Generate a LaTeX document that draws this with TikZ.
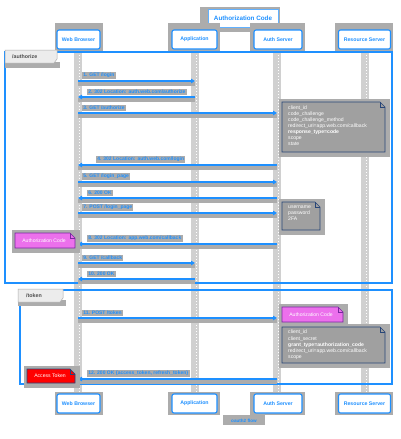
\documentclass[tikz,border=0pt]{standalone}
\usepackage{fontspec}
\setmainfont{Liberation Sans}
\usetikzlibrary{arrows.meta,calc}
\definecolor{pblue}{RGB}{30,144,255}
\definecolor{shad}{RGB}{172,172,172}
\definecolor{life}{RGB}{208,208,208}
\definecolor{notefill}{RGB}{160,160,160}
\definecolor{noteborder}{RGB}{40,70,120}
\definecolor{pinkfill}{RGB}{236,112,236}
\definecolor{pinkborder}{RGB}{120,40,160}
\definecolor{tabfill}{RGB}{236,236,236}
\newcommand\mynote[5]{%
  \fill[shad] (#1-3,#2-3) rectangle (#3+5,#4+5);
  \draw[#5] (#1,#2) -- (#3-5,#2) -- (#3,#2+5) -- (#3,#4) -- (#1,#4) -- cycle;
  \draw[#5,fill=none] (#3-5,#2) -- (#3-5,#2+5) -- (#3,#2+5);
}
\begin{document}
\begin{tikzpicture}[x=1pt,y=-1pt,
  part/.style={draw=pblue,line width=1.1pt,rounded corners=2pt,fill=white,text=pblue,
    font=\fontsize{5.2}{6}\selectfont\bfseries,minimum height=19pt,inner sep=0pt},
  msg/.style={pblue,line width=1.2pt,-{Triangle[length=4pt,width=4.5pt]}},
  lbl/.style={font=\fontsize{5}{6}\selectfont\bfseries,text=pblue,fill=shad,inner sep=1.2pt,anchor=south west},
  grp/.style={draw=pblue,line width=1.3pt},
  tabbox/.style={fill=tabfill,draw=shad,line width=0.5pt},
  tabtxt/.style={font=\fontsize{5.3}{6}\selectfont\bfseries,text=black!70,anchor=west,inner sep=0pt},
  greynote/.style={fill=notefill,draw=noteborder,line width=0.7pt},
  pinknote/.style={fill=pinkfill,draw=pinkborder,line width=0.7pt},
  rednote/.style={fill=red,draw=noteborder,line width=0.7pt},
  notetxt/.style={font=\fontsize{5.1}{6.1}\selectfont,text=white,align=left,anchor=north west,inner sep=0pt},
]
\useasboundingbox (0,0) rectangle (400,439);
\fill[white] (0,0) rectangle (400,439);

% lifeline coordinates
\coordinate (L1) at (78,0);
\coordinate (L2) at (195,0);
\coordinate (L3) at (277,0);
\coordinate (L4) at (365,0);

% title
\fill[shad] (200,7) rectangle (280,32);
\node[draw=pblue!70,line width=0.8pt,fill=white,text=pblue,font=\fontsize{6.3}{7}\selectfont\bfseries,
  minimum width=70pt,minimum height=18pt,inner sep=0pt] (title) at (243,18) {Authorization Code};

% lifeline bars
\foreach \l in {1,2,3,4}{
  \fill[life] ($(L\l|-0,49)+(-4,0)$) rectangle ($(L\l|-0,395)+(4,0)$);
  \draw[white,line width=0.8pt,dash pattern=on 0.8pt off 2.2pt] ($(L\l|-0,49)+(1.5,0)$) -- ($(L\l|-0,395)+(1.5,0)$);
}

% participant shadows
\foreach \xa/\xb in {55/103,168/220,250/305,335/393}{
  \fill[shad] (\xa,23) rectangle (\xb,53);
  \fill[shad] (\xa,392) rectangle (\xb,415);
}

% groups
\draw[grp] (5,52) rectangle (392,283);
\fill[shad] (5,62) rectangle (60,68);
\draw[tabbox] (5,50) -- (57,50) -- (57,59) -- (54,63) -- (5,63) -- cycle;
\node[tabtxt] (tabauth) at (12,57) {/authorize};

\draw[grp] (20,290) rectangle (392,384);
\fill[shad] (18,300) rectangle (66,306);
\draw[tabbox] (18,289) -- (63,289) -- (63,298) -- (60,302) -- (18,302) -- cycle;
\node[tabtxt] (tabtoken) at (26,296) {/token};

% messages
\foreach \i/\a/\b/\y/\lx/\txt in {
  1/1/2/81/82/{1. GET /login},
  2/2/1/97/87/{2. 302 Location: auth.web.com/authorize},
  3/1/3/113/82/{3. GET /authorize},
  4/3/1/165/96/{4. 302 Location: auth.web.com/login},
  5/1/3/182/82/{5. GET /login\_page},
  6/3/1/198/87/{6. 200 OK},
  7/1/3/213/82/{7. POST /login\_page},
  8/3/1/244/87/{8. 302 Location: app.web.com/callback},
  9/1/2/263/82/{9. GET /callback},
  10/2/1/279/87/{10. 200 OK},
  11/1/3/318/82/{11. POST /token},
  12/3/1/379/87/{12. 200 OK \{access\_token, refresh\_token\}}}{
  \fill[shad] ($(L\a|-0,\y)+(0,1)$) rectangle ($(L\b|-0,\y)+(0,5)$);
  \node[lbl] (lab\i) at (\lx,\y-2) {\txt};
  \draw[msg] (L\a|-0,\y) -- (L\b|-0,\y);
}

% note after message 3
\mynote{282}{102}{385}{152}{greynote}
\node[notetxt] (noteA) at (288,105.5) {client\_id\\code\_challenge\\code\_challenge\_method\\redirect\_uri=app.web.com/callback\\\textbf{response\_type=code}\\scope\\state};

% note after message 7
\mynote{282}{202}{320}{230}{greynote}
\node[notetxt] (noteB) at (288,205.5) {username\\password\\2FA};

% pink note message 8
\mynote{15}{233}{75}{248}{pinknote}
\node[notetxt,anchor=center] (codeA) at (44,240.5) {Authorization Code};

% pink note message 11
\mynote{282}{307}{343}{322}{pinknote}
\node[notetxt,anchor=center] (codeB) at (311,314.5) {Authorization Code};

% note message 11
\mynote{282}{327}{385}{363}{greynote}
\node[notetxt] (noteC) at (288,330) {client\_id\\client\_secret\\\textbf{grant\_type=authorization\_code}\\redirect\_uri=app.web.com/callback\\scope};

% access token
\mynote{27}{369}{75}{383}{rednote}
\node[notetxt,anchor=center] (token) at (50,376) {Access Token};

% participants
\node[part,minimum width=43pt] (p1t) at (78.5,39.5) {Web Browser};
\node[part,minimum width=45pt] (p2t) at (194.5,39.5) {Application};
\node[part,minimum width=48pt] (p3t) at (278,39.5) {Auth Server};
\node[part,minimum width=52pt] (p4t) at (364.5,39.5) {Resource Server};
\node[part,minimum width=43pt] (p1b) at (78.5,403.5) {Web Browser};
\node[part,minimum width=45pt] (p2b) at (194.5,403.5) {Application};
\node[part,minimum width=48pt] (p3b) at (278,403.5) {Auth Server};
\node[part,minimum width=52pt] (p4b) at (364.5,403.5) {Resource Server};

% footer
\fill[shad] (223,415) rectangle (265,425);
\node[font=\fontsize{4.6}{5}\selectfont\bfseries,text=pblue,inner sep=0pt] (foot) at (244,420.5) {oauth2 flow};
\end{tikzpicture}
\end{document}
